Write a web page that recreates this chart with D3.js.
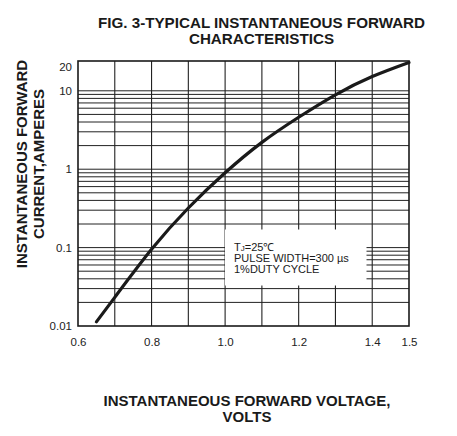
<!DOCTYPE html>
<html>
<head>
<meta charset="utf-8">
<script src="https://cdn.jsdelivr.net/npm/d3@7"></script>
<style>
  html, body { margin: 0; padding: 0; background: #fff; }
  svg { display: block; font-family: "Liberation Sans", Arial, sans-serif; }
</style>
</head>
<body>
<svg id="chart" width="457" height="436"></svg>
<script>
// ---- data ----
const voltage = [0.65, 0.7, 0.8, 0.9, 1.0, 1.1, 1.2, 1.3, 1.4, 1.5];
const current = [0.0113, 0.0232, 0.095, 0.32, 0.90, 2.2, 4.6, 8.9, 15.2, 23];
const xTickValues = [0.6, 0.8, 1.0, 1.2, 1.4, 1.5];
const xGridValues = [0.7, 0.8, 0.9, 1.0, 1.1, 1.2, 1.3, 1.4];
const yTickValues = [0.01, 0.1, 1, 10, 20];
const yTickLabels = ["0.01", "0.1", "1", "10", "20"];
const yGridValues = [0.02,0.03,0.04,0.05,0.06,0.07,0.08,0.09,0.1,
                     0.2,0.3,0.4,0.5,0.6,0.7,0.8,0.9,1,
                     2,3,4,5,6,7,8,9,10];
const titleLines = ["FIG. 3-TYPICAL INSTANTANEOUS FORWARD", "CHARACTERISTICS"];
const xTitleLines = ["INSTANTANEOUS FORWARD VOLTAGE,", "VOLTS"];
const yTitleLines = ["INSTANTANEOUS FORWARD", "CURRENT,AMPERES"];
const noteLines = ["PULSE WIDTH=300 \u00b5s", "1%DUTY CYCLE"];

(function () {
const svg = d3.select("#chart");
const ink = "#1a1a1a";

const pl = 78, pr = 409, pt = 61, pb = 326;
const x = d3.scaleLinear().domain([0.6, 1.5]).range([pl, pr]);
const y = d3.scaleLog().domain([0.01, 24]).range([pb, pt]);

// grid
const g = svg.append("g");
g.selectAll("line.h").data(yGridValues).enter().append("line")
  .attr("x1", pl).attr("x2", pr)
  .attr("y1", d => y(d)).attr("y2", d => y(d))
  .attr("stroke", "#222").attr("stroke-width", 1);
g.selectAll("line.v").data(xGridValues).enter().append("line")
  .attr("y1", pt).attr("y2", pb)
  .attr("x1", d => x(d)).attr("x2", d => x(d))
  .attr("stroke", "#222").attr("stroke-width", 1.1);

// annotation box (white, covers grid)
svg.append("rect").attr("x", 225).attr("y", 229.5).attr("width", 141.5).attr("height", 56)
  .attr("fill", "#fff");
const note = svg.append("g").attr("font-size", 11).attr("fill", ink);
const t1 = note.append("text").attr("x", 234).attr("y", 251);
t1.append("tspan").text("T");
t1.append("tspan").attr("font-size", 8).text("J");
t1.append("tspan").text("=25\u2103");
noteLines.forEach((s, i) => {
  note.append("text").attr("x", 234).attr("y", 262.3 + i * 11).text(s);
});

// frame
svg.append("rect").attr("x", pl).attr("y", pt)
  .attr("width", pr - pl).attr("height", pb - pt)
  .attr("fill", "none").attr("stroke", ink).attr("stroke-width", 1.6);

// curve
const pts = voltage.map((v, i) => [v, current[i]]);
svg.append("path").datum(pts)
  .attr("d", d3.line().x(d => x(d[0])).y(d => y(d[1])).curve(d3.curveNatural))
  .attr("fill", "none").attr("stroke", ink).attr("stroke-width", 3.2)
  .attr("stroke-linecap", "round");

// axes
const xAxis = svg.append("g").attr("transform", `translate(0,${pb})`)
  .call(d3.axisBottom(x).tickValues(xTickValues).tickSize(0).tickPadding(12)
        .tickFormat(d3.format(".1f")));
xAxis.select(".domain").remove();
xAxis.selectAll("text").attr("font-size", 11.5).attr("fill", "#222")
  .attr("font-family", "Liberation Sans, Arial, sans-serif");

const yAxis = svg.append("g").attr("transform", `translate(${pl},0)`)
  .call(d3.axisLeft(y).tickValues(yTickValues).tickSize(0).tickPadding(6)
        .tickFormat((d, i) => yTickLabels[i]));
yAxis.select(".domain").remove();
yAxis.selectAll("text").attr("font-size", 11.5).attr("fill", "#222")
  .attr("font-family", "Liberation Sans, Arial, sans-serif");

// titles
titleLines.forEach((s, i) => {
  svg.append("text").attr("x", 261.5).attr("y", 28 + i * 15.5)
    .attr("text-anchor", "middle").attr("font-weight", "bold").attr("font-size", 15.2)
    .attr("fill", ink).text(s);
});
xTitleLines.forEach((s, i) => {
  svg.append("text").attr("x", 247).attr("y", 406 + i * 15.5)
    .attr("text-anchor", "middle").attr("font-weight", "bold").attr("font-size", 15)
    .attr("fill", ink).text(s);
});
yTitleLines.forEach((s, i) => {
  svg.append("text")
    .attr("transform", `translate(${26.5 + i * 17.5},164) rotate(-90)`)
    .attr("text-anchor", "middle").attr("font-weight", "bold").attr("font-size", 15)
    .attr("fill", ink).text(s);
});
})();
</script>
</body>
</html>
